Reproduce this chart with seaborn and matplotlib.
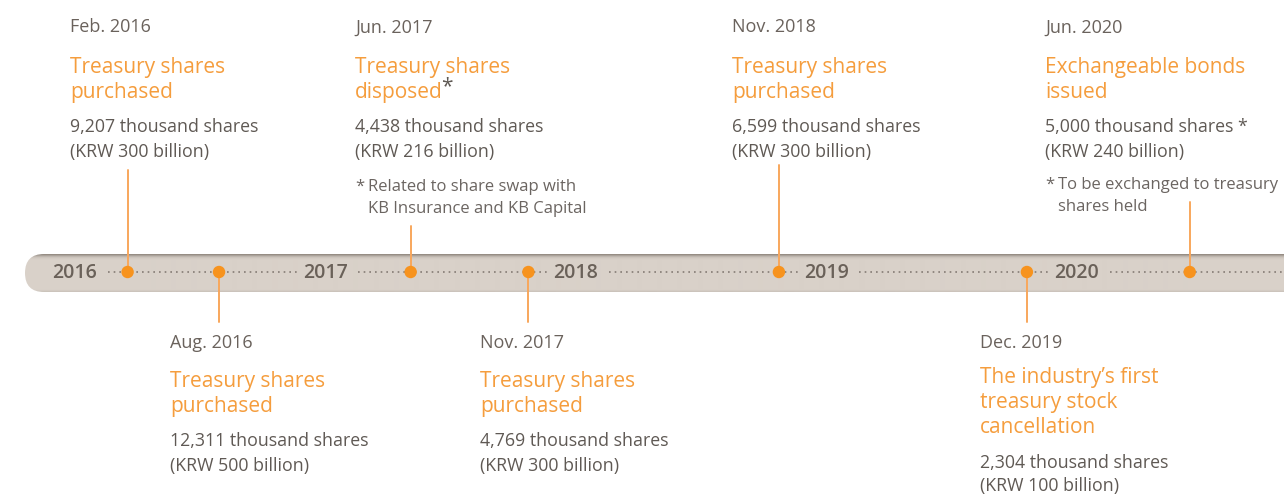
import numpy as np
import pandas as pd
import seaborn as sns
import matplotlib.pyplot as plt
from matplotlib.patches import FancyBboxPatch
from matplotlib.transforms import IdentityTransform

# timeline data (positions on the bar in "timeline years")
years = [2016, 2017, 2018, 2019, 2020]
dates = ["Feb. 2016", "Aug. 2016", "Jun. 2017", "Nov. 2017", "Nov. 2018", "Dec. 2019", "Jun. 2020"]
event_pos = [2016.21, 2016.575, 2017.34, 2017.81, 2018.81, 2019.80, 2020.45]
side = ["up", "down", "up", "down", "up", "down", "up"]
titles = [["Treasury shares", "purchased"],
          ["Treasury shares", "purchased"],
          ["Treasury shares", "disposed"],
          ["Treasury shares", "purchased"],
          ["Treasury shares", "purchased"],
          ["The industry\u2019s first", "treasury stock", "cancellation"],
          ["Exchangeable bonds", "issued"]]
shares_k = [9207, 12311, 4438, 4769, 6599, 2304, 5000]
krw_bn = [300, 500, 216, 300, 300, 100, 240]
notes = [None, None, ["Related to share swap with", "KB Insurance and KB Capital"],
         None, None, None, ["To be exchanged to treasury", "shares held"]]

ORANGE = "#f7931e"
LINE_OR = "#f8a75c"
TITLE_OR = "#f59d3d"
GRAY = "#5f5954"
YEAR_C = "#6a6159"

sns.set_theme(style="white")
plt.rcParams["font.family"] = ["Open Sans", "DejaVu Sans"]

W, H = 1284, 495
fig = plt.figure(figsize=(W / 100, H / 100), dpi=100)
ax = fig.add_axes([0, 0, 1, 1])


def yr(px):
    return 2016 + (px - 75) / 250.5


ax.set_xlim(yr(0), yr(W))
ax.set_ylim(H, 0)
ax.axis("off")

# bar with vertical shading, clipped to a rounded shape
bar_top, bar_bot = 254, 292
shade = np.array([
    [150, 141, 132], [170, 162, 154], [190, 182, 174], [204, 196, 188],
    [211, 203, 195], [215, 207, 199]] + [[217, 209, 201]] * 30 + [[212, 204, 196], [204, 196, 188]]) / 255.0
img = shade[:, None, :]
im = ax.imshow(img, extent=(yr(25), yr(1320), bar_bot, bar_top), aspect="auto",
               interpolation="bilinear", zorder=1)
clip = FancyBboxPatch((25, H - bar_bot), 1320, bar_bot - bar_top,
                      boxstyle="round,pad=0,rounding_size=19",
                      transform=IdentityTransform(), facecolor="none", edgecolor="none")
fig.add_artist(clip)
im.set_clip_path(clip)

yc = 272
# dotted guide line with gaps around year labels
for y in years:
    x0 = y + 0.13
    x1 = y + 1 - 0.108 if y < 2020 else yr(W + 5)
    ax.plot([x0, x1], [yc, yc], color="#847b74", lw=1.2,
            linestyle=(0, (1, 2.4)), zorder=2)
for y in years:
    ax.text(y, yc + 1, str(y), ha="center", va="center", fontsize=14,
            fontweight="semibold", color=YEAR_C, zorder=3)

# connectors
up_top = {0: 170, 2: 226, 4: 165, 6: 202}
for i, p in enumerate(event_pos):
    if side[i] == "up":
        ax.plot([p, p], [yc, up_top[i]], color=LINE_OR, lw=1.4, zorder=2)
    else:
        ax.plot([p, p], [yc, 322], color=LINE_OR, lw=1.4, zorder=2)

df = pd.DataFrame({"pos": event_pos, "y": [yc] * len(event_pos)})
sns.scatterplot(data=df, x="pos", y="y", s=80, color=ORANGE, edgecolor="none",
                zorder=4, ax=ax, legend=False)

# text blocks
text_px = [70, 170, 355, 480, 732, 980, 1045]
for i in range(len(dates)):
    tx = yr(text_px[i])
    if side[i] == "up":
        y_date, y_t0 = 27.5, 67.5
    else:
        y_date, y_t0 = 342.5, 381.5 if len(titles[i]) == 2 else 377.5
    ax.text(tx, y_date, dates[i], ha="left", va="center", fontsize=13, color="#6a625c")
    last = None
    for k, t in enumerate(titles[i]):
        last = ax.text(tx, y_t0 + 25 * k, t, ha="left", va="center", fontsize=15,
                       fontweight="medium", color=TITLE_OR)
    if i == 2:
        ax.annotate("*", xy=(1, 1), xycoords=last, xytext=(-1, 4),
                    textcoords="offset points", ha="left", va="top",
                    fontsize=15, color=GRAY)
    y_d0 = y_t0 + 25 * (len(titles[i]) - 1) + 35
    line1 = f"{shares_k[i]:,} thousand shares"
    if notes[i] is not None and i == 6:
        line1 += " *"
    ax.text(tx, y_d0, line1, ha="left", va="center", fontsize=12.8, color=GRAY)
    ax.text(tx, y_d0 + 24, f"(KRW {krw_bn[i]} billion)", ha="left", va="center",
            fontsize=12.8, color=GRAY)
    if notes[i] is not None:
        ny = 187 if i == 2 else 185
        ax.text(tx, ny, "*", ha="left", va="center", fontsize=12, color="#6b6561")
        for k, n in enumerate(notes[i]):
            ax.text(yr(text_px[i] + 13), ny + 22 * k, n, ha="left", va="center",
                    fontsize=12, color="#6b6561")

fig.savefig("out.png", dpi=100)
